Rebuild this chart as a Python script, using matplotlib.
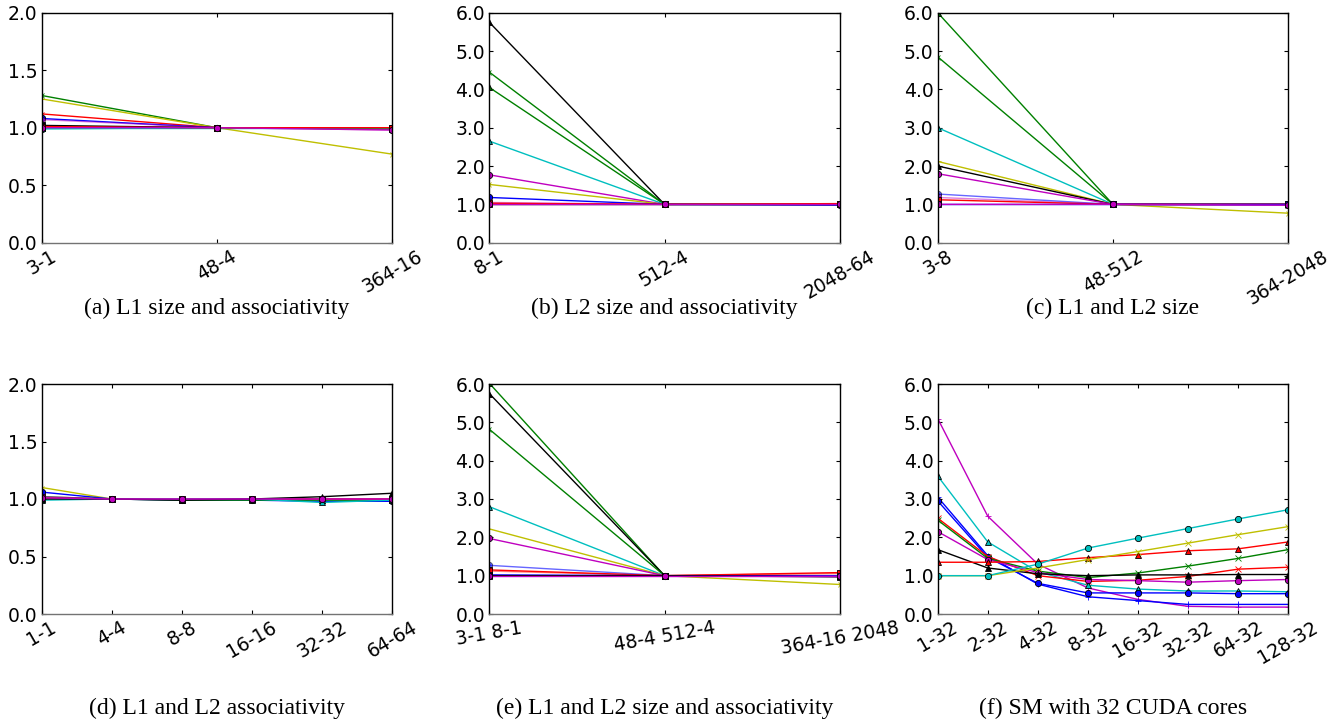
import matplotlib
matplotlib.use("Agg")
import matplotlib.pyplot as plt

# (a) L1 size and associativity
a_labels = ["3-1", "48-4", "364-16"]
a_series = [
    [1.28, 1.00, 1.00],
    [1.25, 1.00, 0.77],
    [1.12, 1.00, 1.00],
    [1.08, 1.00, 0.99],
    [1.07, 1.00, 0.98],
    [1.02, 1.00, 1.00],
    [1.01, 1.00, 0.99],
    [1.00, 1.00, 1.00],
    [1.00, 1.00, 0.99],
    [0.99, 1.00, 1.00],
    [1.01, 1.00, 1.00],
    [1.00, 1.00, 0.98],
]

# (b) L2 size and associativity
b_labels = ["8-1", "512-4", "2048-64"]
b_series = [
    [5.75, 1.00, 1.00],
    [4.45, 1.00, 1.00],
    [4.05, 1.00, 1.00],
    [2.65, 1.00, 1.00],
    [1.77, 1.00, 1.00],
    [1.52, 1.00, 1.00],
    [1.18, 1.00, 0.98],
    [1.05, 1.00, 1.01],
    [1.00, 1.00, 1.00],
    [1.03, 1.00, 1.02],
    [1.00, 1.00, 1.00],
]

# (c) L1 and L2 size
c_labels = ["3-8", "48-512", "364-2048"]
c_series = [
    [6.00, 1.00, 1.00],
    [4.85, 1.00, 1.00],
    [3.00, 1.00, 1.00],
    [2.12, 1.00, 0.77],
    [2.00, 1.00, 1.00],
    [1.80, 1.00, 1.00],
    [1.27, 1.00, 0.99],
    [1.18, 1.00, 0.98],
    [1.12, 1.00, 1.00],
    [1.00, 1.00, 1.00],
    [1.00, 1.00, 0.98],
]

# (d) L1 and L2 associativity
d_labels = ["1-1", "4-4", "8-8", "16-16", "32-32", "64-64"]
d_series = [
    [1.10, 1.00, 1.00, 1.00, 1.00, 1.00],
    [1.06, 1.00, 0.99, 0.99, 0.98, 0.98],
    [1.02, 1.00, 0.99, 0.99, 0.99, 0.99],
    [1.01, 1.00, 1.00, 1.00, 1.00, 1.00],
    [0.99, 1.00, 1.00, 1.00, 0.97, 0.99],
    [1.00, 1.00, 0.99, 1.00, 1.02, 1.05],
    [1.02, 1.00, 1.00, 1.00, 1.00, 1.00],
    [1.01, 1.00, 1.00, 1.00, 1.00, 1.00],
]

# (e) L1 and L2 size and associativity
e_labels = ["3-1 8-1", "48-4 512-4", "364-16 2048"]
e_series = [
    [6.02, 1.00, 1.00],
    [5.75, 1.00, 1.00],
    [4.82, 1.00, 1.00],
    [2.80, 1.00, 1.00],
    [2.22, 1.00, 0.77],
    [1.97, 1.00, 1.00],
    [1.27, 1.00, 1.00],
    [1.15, 1.00, 1.08],
    [1.12, 1.00, 1.06],
    [1.02, 1.00, 0.98],
    [1.00, 1.00, 0.97],
    [1.00, 1.00, 1.00],
]

# (f) SM with 32 CUDA cores
f_labels = ["1-32", "2-32", "4-32", "8-32", "16-32", "32-32", "64-32", "128-32"]
f_series = [
    [5.10, 2.55, 1.30, 0.68, 0.38, 0.20, 0.18, 0.18],
    [3.60, 1.88, 1.10, 0.75, 0.65, 0.60, 0.60, 0.58],
    [3.05, 1.52, 0.78, 0.45, 0.35, 0.25, 0.25, 0.25],
    [2.95, 1.48, 0.80, 0.55, 0.55, 0.55, 0.53, 0.53],
    [2.50, 1.50, 1.00, 0.85, 0.88, 0.98, 1.17, 1.22],
    [2.45, 1.45, 1.12, 0.95, 1.07, 1.25, 1.45, 1.68],
    [2.15, 1.42, 1.08, 0.90, 0.87, 0.83, 0.87, 0.90],
    [1.68, 1.20, 1.05, 1.00, 1.02, 1.02, 1.03, 1.03],
    [1.35, 1.35, 1.37, 1.47, 1.55, 1.65, 1.70, 1.88],
    [1.00, 1.00, 1.20, 1.42, 1.63, 1.85, 2.07, 2.28],
    [1.00, 1.00, 1.30, 1.72, 1.98, 2.23, 2.48, 2.72],
]

# classic matplotlib colours
C = {"b": (0, 0, 1), "g": (0, 0.5, 0), "r": (1, 0, 0), "c": (0, 0.75, 0.75),
     "m": (0.75, 0, 0.75), "y": (0.75, 0.75, 0), "k": (0, 0, 0)}

# (colour, marker, alpha) per series
a_styles = [("g", "3", 1), ("y", "4", 1), ("r", "3", 1), ("b", "o", 1),
            ("m", "o", 0.5), ("k", "s", 1), ("b", "s", 0.5), ("c", "^", 1),
            ("g", "s", 1), ("c", "o", 1), ("r", "s", 1), ("m", "o", 1)]
b_styles = [("k", "^", 1), ("g", "3", 1), ("g", "^", 1), ("c", "^", 1),
            ("m", "o", 1), ("y", "3", 1), ("b", "o", 1), ("m", "s", 0.5),
            ("k", "s", 1), ("r", "s", 1), ("m", "o", 1)]
c_styles = [("g", "^", 1), ("g", "3", 1), ("c", "^", 1), ("y", "4", 1),
            ("k", "^", 1), ("m", "o", 1), ("b", "o", 0.6), ("m", "s", 0.5),
            ("r", "s", 1), ("b", "s", 1), ("m", "o", 1)]
d_styles = [("y", "3", 1), ("b", "o", 1), ("g", "s", 1), ("r", "s", 1),
            ("c", "^", 1), ("k", "^", 1), ("m", "s", 0.5), ("m", "o", 1)]
e_styles = [("g", "^", 1), ("k", "^", 1), ("g", "3", 1), ("c", "^", 1),
            ("y", "4", 1), ("m", "o", 1), ("b", "o", 0.6), ("r", "s", 1),
            ("r", "s", 0.5), ("b", "s", 1), ("k", "s", 1), ("m", "o", 1)]
f_styles = [("m", "+", 1), ("c", "^", 1), ("b", "+", 1), ("b", "o", 1),
            ("r", "x", 1), ("g", "x", 1), ("m", "o", 1), ("k", "^", 1),
            ("r", "^", 1), ("y", "x", 1), ("c", "o", 1)]

plt.rcParams["font.family"] = "DejaVu Sans"
plt.rcParams["xtick.direction"] = "in"
plt.rcParams["ytick.direction"] = "in"

W, H = 1344, 723
fig = plt.figure(figsize=(W / 100, H / 100), dpi=100)


def panel(left_px, top_px, labels, series, styles, ymax, ystep, rot, caption, cap_y):
    ax = fig.add_axes([left_px / W, 1 - (top_px + 230) / H, 350.5 / W, 230 / H])
    x = list(range(len(labels)))
    for vals, (c, m, al) in zip(series, styles):
        col = C[c]
        mec = col if m in "x+34" else "k"
        ax.plot(x, vals, color=col, marker=m, ms=4.5, mec=mec, mew=0.6,
                lw=1.0, alpha=al)
    ax.set_xlim(0, len(labels) - 1)
    ax.set_ylim(0, ymax)
    yt = [i * ystep for i in range(int(round(ymax / ystep)) + 1)]
    ax.set_yticks(yt)
    ax.set_yticklabels(["%.1f" % v for v in yt])
    ax.set_xticks(x)
    ax.set_xticklabels(labels, rotation=rot, ha="center")
    ax.tick_params(top=True, right=True, length=3, width=0.8, labelsize=13.5, pad=3)
    for s in ax.spines.values():
        s.set_linewidth(1.0)
    ax.spines["bottom"].set_color("0.45")
    fig.text((left_px + 175) / W, 1 - cap_y / H, caption, ha="center", va="center",
             family="Liberation Serif", fontsize=17)
    return ax


panel(41.7, 12.7, a_labels, a_series, a_styles, 2.0, 0.5, 30,
      "(a) L1 size and associativity", 308)
panel(489.3, 12.7, b_labels, b_series, b_styles, 6.0, 1.0, 30,
      "(b) L2 size and associativity", 308)
panel(937.7, 12.7, c_labels, c_series, c_styles, 6.0, 1.0, 30,
      "(c) L1 and L2 size", 308)
panel(41.7, 384, d_labels, d_series, d_styles, 2.0, 0.5, 30,
      "(d) L1 and L2 associativity", 708)
panel(489.3, 384, e_labels, e_series, e_styles, 6.0, 1.0, 10,
      "(e) L1 and L2 size and associativity", 708)
panel(937.7, 384, f_labels, f_series, f_styles, 6.0, 1.0, 30,
      "(f) SM with 32 CUDA cores", 708)

fig.savefig("out.png", dpi=100)
